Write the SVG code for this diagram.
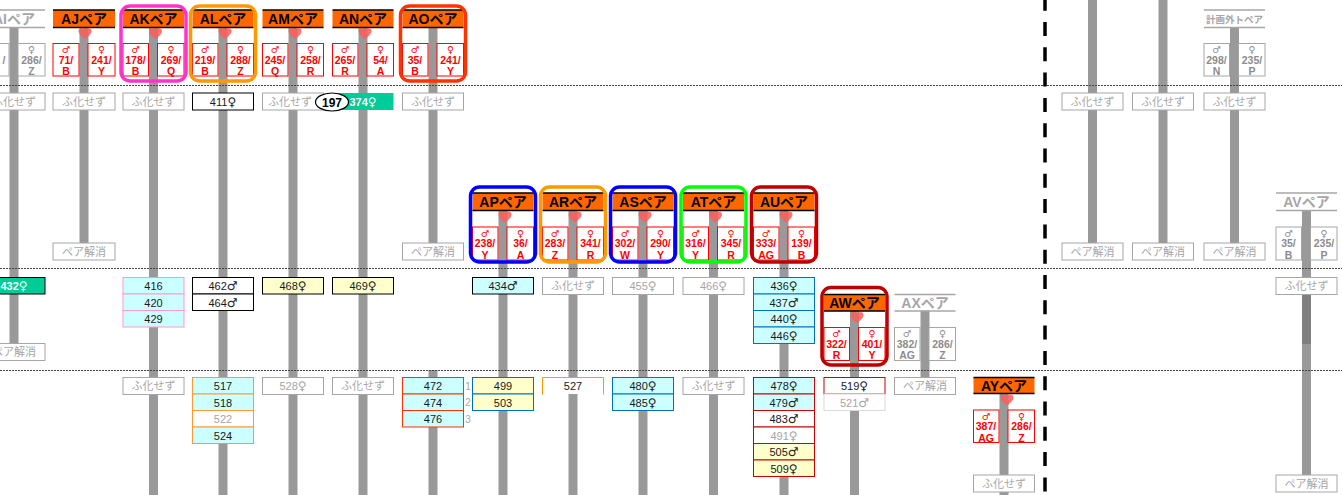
<svg xmlns="http://www.w3.org/2000/svg" xmlns:xlink="http://www.w3.org/1999/xlink" width="1342" height="495" viewBox="0 0 1342 495">
<style>
.bar{fill:#999}
.hdr{fill:#FF6600}
.hl{stroke:#000;stroke-width:1.4;fill:none}
.ghl{stroke:#A6A6A6;stroke-width:1.4;fill:none}
.ht{font-family:"Liberation Sans","Noto Sans CJK JP",sans-serif;font-weight:bold;font-size:14px;fill:#000;text-anchor:middle}
.ght{font-family:"Liberation Sans","Noto Sans CJK JP",sans-serif;font-weight:bold;font-size:14px;fill:#A6A6A6;text-anchor:middle}
.ghs{font-family:"Noto Sans CJK JP",sans-serif;font-weight:bold;font-size:9.5px;fill:#A6A6A6;text-anchor:middle}
.sx{fill:#fff;stroke:#FF0000;stroke-width:1}
.gsx{fill:#fff;stroke:#A6A6A6;stroke-width:1}
.st{font-family:"Liberation Sans","DejaVu Sans",sans-serif;font-weight:bold;font-size:10.5px;fill:#FF0000;text-anchor:middle}
.gst{font-family:"Liberation Sans","DejaVu Sans",sans-serif;font-weight:bold;font-size:10.5px;fill:#8C8C8C;text-anchor:middle}
.sy{font-family:"DejaVu Sans",sans-serif;font-weight:bold;font-size:9.5px}
.ls{font-family:"DejaVu Sans",sans-serif;font-size:12px}
.gb{fill:#fff;stroke:#A6A6A6;stroke-width:1}
.gt{font-family:"Liberation Sans","Noto Sans CJK JP",sans-serif;font-size:11px;fill:#A6A6A6;text-anchor:middle}
.lt{font-family:"Liberation Sans","DejaVu Sans",sans-serif;font-size:11px;fill:#1a1a1a;text-anchor:middle}
.lg{font-family:"Liberation Sans","DejaVu Sans",sans-serif;font-size:11px;fill:#A6A6A6;text-anchor:middle}
.num{font-family:"Liberation Sans",sans-serif;font-size:10px;fill:#A6A6A6;text-anchor:middle}
.wt{font-family:"Liberation Sans","DejaVu Sans",sans-serif;font-weight:bold;font-size:11px;fill:#fff;text-anchor:middle}
.grp{fill:none;stroke-width:3.5}
.sep{stroke:#444;stroke-width:1;stroke-dasharray:2 1;fill:none}
.cy{fill:#CCFFFF}
.ye{fill:#FFFFCC}
.wh{fill:#fff}
.heart{fill:#FF5B5B;opacity:.85}
</style>
<defs>
<path id="heart" class="heart" d="M0,5.5 C-2.5,3.5 -6.5,0.5 -6.5,-2.3 C-6.5,-4.5 -5,-5.5 -3.3,-5.5 C-1.8,-5.5 -0.6,-4.6 0,-3.4 C0.6,-4.6 1.8,-5.5 3.3,-5.5 C5,-5.5 6.5,-4.5 6.5,-2.3 C6.5,0.5 2.5,3.5 0,5.5Z"/>
</defs>
<rect x="0" y="0" width="1342" height="495" fill="#fff"/>

<g id="connectors" class="bar">
<rect x="9.5" y="27.5" width="9" height="324.5"/>
<rect x="79.5" y="27.5" width="9" height="224.5"/>
<rect x="149" y="27.5" width="9" height="467.5"/>
<rect x="218.5" y="27.5" width="9" height="467.5"/>
<rect x="288.5" y="27.5" width="9" height="467.5"/>
<rect x="358.5" y="27.5" width="9" height="467.5"/>
<rect x="428.5" y="27.5" width="9" height="224.5"/>
<rect x="428.5" y="370" width="9" height="125"/>
<rect x="498.5" y="210" width="9" height="285"/>
<rect x="568.5" y="210" width="9" height="285"/>
<rect x="638.5" y="210" width="9" height="285"/>
<rect x="709" y="210" width="9" height="285"/>
<rect x="779.5" y="210" width="9" height="285"/>
<rect x="850" y="310.5" width="9" height="184.5"/>
<rect x="920.5" y="310.5" width="9" height="74.5"/>
<rect x="999.5" y="393" width="9" height="102"/>
<rect x="1088" y="0" width="9" height="252"/>
<rect x="1158.5" y="0" width="9" height="252"/>
<rect x="1230" y="27.5" width="9" height="224.5"/>
<rect x="1302" y="210.5" width="9" height="273.5"/>
<rect x="1302" y="294" width="9" height="50" fill="#7F7F7F"/>
</g>

<g id="separators">
<path class="sep" d="M0 85.5H1342M0 268.5H1342M0 370.5H1342"/>
<path d="M1045 0V495" stroke="#000" stroke-width="3.5" stroke-dasharray="14 11.3" stroke-dashoffset="3.3" fill="none"/>
</g>

<!-- AI -->
<g id="pair-AI">
<path class="ghl" d="M-17 10H45M-17 27.5H45"/>
<text class="ght" x="14" y="23.5">AIペア</text>
<rect class="gsx" x="-17" y="43.5" width="26" height="32.5"/>
<rect class="gsx" x="18" y="43.5" width="27" height="32.5"/>
<text class="gst" x="4" y="63.5">/</text>
<text class="gst"><tspan class="sy" x="31.5" y="53">♀</tspan><tspan x="31.5" y="63.5">286/</tspan><tspan x="31.5" y="75">Z</tspan></text>
</g>
<g id="AI-s1"><rect class="gb" x="-17" y="93" width="62" height="17"/><text class="gt" x="14" y="105.5">ふ化せず</text></g>
<g id="AI-432"><rect x="-17" y="277.5" width="62" height="16.5" fill="#00CC99" stroke="#000" stroke-width="1"/><text class="wt" x="14" y="290">432<tspan class="ls" font-weight="bold">♀</tspan></text></g>
<g id="AI-end"><rect class="gb" x="-17" y="343.5" width="62" height="17"/><text class="gt" x="14" y="356">ペア解消</text></g>

<!-- AJ -->
<g id="pair-AJ">
<rect class="hdr" x="53" y="10" width="62" height="17.5"/>
<path class="hl" d="M53 10H115M53 27.5H115"/>
<text class="ht" x="84" y="23.5">AJペア</text>
<use href="#heart" x="85" y="33.5"/>
<rect class="sx" x="53" y="43.5" width="26" height="32.5"/>
<rect class="sx" x="88" y="43.5" width="27" height="32.5"/>
<text class="st"><tspan class="sy" x="66" y="53">♂</tspan><tspan x="66" y="63.5">71/</tspan><tspan x="66" y="75">B</tspan></text>
<text class="st"><tspan class="sy" x="101.5" y="53">♀</tspan><tspan x="101.5" y="63.5">241/</tspan><tspan x="101.5" y="75">Y</tspan></text>
</g>
<g id="AJ-s1"><rect class="gb" x="53" y="93" width="62" height="17"/><text class="gt" x="84" y="105.5">ふ化せず</text></g>
<g id="AJ-end"><rect class="gb" x="53" y="243" width="62" height="17"/><text class="gt" x="84" y="255.5">ペア解消</text></g>

<!-- AK -->
<g id="pair-AK">
<rect class="hdr" x="123" y="10" width="61" height="17.5"/>
<path class="hl" d="M123 10H184M123 27.5H184"/>
<text class="ht" x="153.5" y="23.5">AKペア</text>
<use href="#heart" x="155.5" y="33.5"/>
<rect class="sx" x="123" y="43.5" width="25.5" height="32.5"/>
<rect class="sx" x="157.5" y="43.5" width="26.5" height="32.5"/>
<text class="st"><tspan class="sy" x="135.5" y="53">♂</tspan><tspan x="135.5" y="63.5">178/</tspan><tspan x="135.5" y="75">B</tspan></text>
<text class="st"><tspan class="sy" x="171" y="53">♀</tspan><tspan x="171" y="63.5">269/</tspan><tspan x="171" y="75">Q</tspan></text>
<rect class="grp" x="121" y="6" width="65" height="75" rx="9" stroke="#FF33CC"/>
</g>
<g id="AK-s1"><rect class="gb" x="123" y="93" width="61" height="17"/><text class="gt" x="153.5" y="105.5">ふ化せず</text></g>
<g id="AK-l2" stroke="#FF99CC" stroke-width="1">
<rect class="cy" x="123" y="277.5" width="61" height="16.5"/><rect class="cy" x="123" y="294" width="61" height="16.5"/><rect class="cy" x="123" y="310.5" width="61" height="16.5"/>
<text class="lt" stroke="none" x="153.5" y="290">416</text><text class="lt" stroke="none" x="153.5" y="306.5">420</text><text class="lt" stroke="none" x="153.5" y="323">429</text>
</g>
<g id="AK-s3"><rect class="gb" x="123" y="377.5" width="61" height="17"/><text class="gt" x="153.5" y="390">ふ化せず</text></g>

<!-- AL -->
<g id="pair-AL">
<rect class="hdr" x="192.5" y="10" width="61" height="17.5"/>
<path class="hl" d="M192.5 10H253.5M192.5 27.5H253.5"/>
<text class="ht" x="223" y="23.5">ALペア</text>
<use href="#heart" x="225" y="33.5"/>
<rect class="sx" x="192.5" y="43.5" width="25.5" height="32.5"/>
<rect class="sx" x="227" y="43.5" width="26.5" height="32.5"/>
<text class="st"><tspan class="sy" x="205" y="53">♂</tspan><tspan x="205" y="63.5">219/</tspan><tspan x="205" y="75">B</tspan></text>
<text class="st"><tspan class="sy" x="240.5" y="53">♀</tspan><tspan x="240.5" y="63.5">288/</tspan><tspan x="240.5" y="75">Z</tspan></text>
<rect class="grp" x="190.5" y="6" width="65" height="75" rx="9" stroke="#FF9900"/>
</g>
<g id="AL-411"><rect class="wh" x="192.5" y="93" width="61" height="17" stroke="#000"/><text class="lt" x="223" y="105.5">411<tspan class="ls">♀</tspan></text></g>
<g id="AL-l2" stroke="#000" stroke-width="1">
<rect class="wh" x="192.5" y="277.5" width="61" height="16.5"/><rect class="wh" x="192.5" y="294" width="61" height="16.5"/>
<text class="lt" stroke="none" x="223" y="290">462<tspan class="ls">♂</tspan></text><text class="lt" stroke="none" x="223" y="306.5">464<tspan class="ls">♂</tspan></text>
</g>
<g id="AL-l3" stroke="#FF9933" stroke-width="1">
<rect class="cy" x="192.5" y="377.5" width="61" height="16.5"/><rect class="cy" x="192.5" y="394" width="61" height="16.5"/><rect class="wh" x="192.5" y="410.5" width="61" height="16.5"/><rect class="cy" x="192.5" y="427" width="61" height="16.5"/>
<text class="lt" stroke="none" x="223" y="390">517</text><text class="lt" stroke="none" x="223" y="406.5">518</text><text class="lg" stroke="none" x="223" y="423">522</text><text class="lt" stroke="none" x="223" y="439.5">524</text>
</g>

<!-- AM -->
<g id="pair-AM">
<rect class="hdr" x="262.5" y="10" width="61" height="17.5"/>
<path class="hl" d="M262.5 10H323.5M262.5 27.5H323.5"/>
<text class="ht" x="293" y="23.5">AMペア</text>
<use href="#heart" x="295" y="33.5"/>
<rect class="sx" x="262.5" y="43.5" width="25.5" height="32.5"/>
<rect class="sx" x="297" y="43.5" width="26.5" height="32.5"/>
<text class="st"><tspan class="sy" x="275" y="53">♂</tspan><tspan x="275" y="63.5">245/</tspan><tspan x="275" y="75">Q</tspan></text>
<text class="st"><tspan class="sy" x="310.5" y="53">♀</tspan><tspan x="310.5" y="63.5">258/</tspan><tspan x="310.5" y="75">R</tspan></text>
</g>
<g id="AM-s1"><rect class="gb" x="262.5" y="93" width="61" height="17"/><text class="gt" x="290" y="105.5">ふ化せず</text></g>
<g id="AM-468"><rect class="ye" x="262.5" y="277.5" width="61" height="16.5" stroke="#000"/><text class="lt" x="293" y="290">468<tspan class="ls">♀</tspan></text></g>
<g id="AM-528"><rect class="gb" x="262.5" y="377.5" width="61" height="17"/><text class="gt" x="293" y="390">528<tspan class="ls">♀</tspan></text></g>

<!-- AN -->
<g id="pair-AN">
<rect class="hdr" x="332.5" y="10" width="61" height="17.5"/>
<path class="hl" d="M332.5 10H393.5M332.5 27.5H393.5"/>
<text class="ht" x="363" y="23.5">ANペア</text>
<use href="#heart" x="365" y="33.5"/>
<rect class="sx" x="332.5" y="43.5" width="25.5" height="32.5"/>
<rect class="sx" x="367" y="43.5" width="26.5" height="32.5"/>
<text class="st"><tspan class="sy" x="345" y="53">♂</tspan><tspan x="345" y="63.5">265/</tspan><tspan x="345" y="75">R</tspan></text>
<text class="st"><tspan class="sy" x="380.5" y="53">♀</tspan><tspan x="380.5" y="63.5">54/</tspan><tspan x="380.5" y="75">A</tspan></text>
</g>
<g id="AN-374"><rect x="332.5" y="93" width="61" height="17" fill="#00CC99"/><text class="wt" x="363" y="105.5">374<tspan class="ls" font-weight="bold">♀</tspan></text></g>
<g id="AN-469"><rect class="ye" x="332.5" y="277.5" width="61" height="16.5" stroke="#000"/><text class="lt" x="363" y="290">469<tspan class="ls">♀</tspan></text></g>
<g id="AN-s3"><rect class="gb" x="332.5" y="377.5" width="61" height="17"/><text class="gt" x="363" y="390">ふ化せず</text></g>
<g id="badge-197"><ellipse cx="332" cy="102" rx="16.5" ry="9" fill="#fff" stroke="#000" stroke-width="1.2"/><text x="332" y="106.5" font-family="Liberation Sans, sans-serif" font-weight="bold" font-size="12" text-anchor="middle" fill="#000">197</text></g>

<!-- AO -->
<g id="pair-AO">
<rect class="hdr" x="402.5" y="10" width="61" height="17.5"/>
<path class="hl" d="M402.5 10H463.5M402.5 27.5H463.5"/>
<text class="ht" x="433" y="23.5">AOペア</text>
<rect class="sx" x="402.5" y="43.5" width="25.5" height="32.5"/>
<rect class="sx" x="437" y="43.5" width="26.5" height="32.5"/>
<text class="st"><tspan class="sy" x="415" y="53">♂</tspan><tspan x="415" y="63.5">35/</tspan><tspan x="415" y="75">B</tspan></text>
<text class="st"><tspan class="sy" x="450.5" y="53">♀</tspan><tspan x="450.5" y="63.5">241/</tspan><tspan x="450.5" y="75">Y</tspan></text>
<rect class="grp" x="400.5" y="6" width="65" height="75" rx="9" stroke="#FF3300"/>
</g>
<g id="AO-s1"><rect class="gb" x="402.5" y="93" width="61" height="17"/><text class="gt" x="433" y="105.5">ふ化せず</text></g>
<g id="AO-end"><rect class="gb" x="402.5" y="243" width="61" height="17"/><text class="gt" x="433" y="255.5">ペア解消</text></g>
<g id="AO-l3" stroke="#FF3300" stroke-width="1">
<rect class="cy" x="402.5" y="377.5" width="61" height="16.5"/><rect class="cy" x="402.5" y="394" width="61" height="16.5"/><rect class="cy" x="402.5" y="410.5" width="61" height="16.5"/>
<text class="lt" stroke="none" x="433" y="390">472</text><text class="lt" stroke="none" x="433" y="406.5">474</text><text class="lt" stroke="none" x="433" y="423">476</text>
<text class="num" stroke="none" x="468" y="389.5">1</text><text class="num" stroke="none" x="468" y="406">2</text><text class="num" stroke="none" x="468" y="422.5">3</text>
</g>

<!-- AP -->
<g id="pair-AP">
<rect class="hdr" x="472.5" y="193" width="61" height="17.5"/>
<path class="hl" d="M472.5 193H533.5M472.5 210.5H533.5"/>
<text class="ht" x="503" y="206.5">APペア</text>
<use href="#heart" x="505" y="217"/>
<rect class="sx" x="472.5" y="227" width="25.5" height="33"/>
<rect class="sx" x="507" y="227" width="26.5" height="33"/>
<text class="st"><tspan class="sy" x="485" y="236.5">♂</tspan><tspan x="485" y="247">238/</tspan><tspan x="485" y="258.5">Y</tspan></text>
<text class="st"><tspan class="sy" x="520.5" y="236.5">♀</tspan><tspan x="520.5" y="247">36/</tspan><tspan x="520.5" y="258.5">A</tspan></text>
<rect class="grp" x="470.5" y="187" width="65" height="75" rx="9" stroke="#0000FF"/>
</g>
<g id="AP-434"><rect class="cy" x="472.5" y="277.5" width="61" height="16.5" stroke="#000"/><text class="lt" x="503" y="290">434<tspan class="ls">♂</tspan></text></g>
<g id="AP-l3" stroke="#0070C0" stroke-width="1">
<rect class="ye" x="472.5" y="377.5" width="61" height="16.5"/><rect class="ye" x="472.5" y="394" width="61" height="16.5"/>
<text class="lt" stroke="none" x="503" y="390">499</text><text class="lt" stroke="none" x="503" y="406.5">503</text>
</g>

<!-- AR -->
<g id="pair-AR">
<rect class="hdr" x="542.5" y="193" width="61" height="17.5"/>
<path class="hl" d="M542.5 193H603.5M542.5 210.5H603.5"/>
<text class="ht" x="573" y="206.5">ARペア</text>
<use href="#heart" x="575" y="217"/>
<rect class="sx" x="542.5" y="227" width="25.5" height="33"/>
<rect class="sx" x="577" y="227" width="26.5" height="33"/>
<text class="st"><tspan class="sy" x="555" y="236.5">♂</tspan><tspan x="555" y="247">283/</tspan><tspan x="555" y="258.5">Z</tspan></text>
<text class="st"><tspan class="sy" x="590.5" y="236.5">♀</tspan><tspan x="590.5" y="247">341/</tspan><tspan x="590.5" y="258.5">R</tspan></text>
<rect class="grp" x="540.5" y="187" width="65" height="75" rx="9" stroke="#FF9900"/>
</g>
<g id="AR-s2"><rect class="gb" x="542.5" y="277.5" width="61" height="17"/><text class="gt" x="573" y="290">ふ化せず</text></g>
<g id="AR-527"><rect class="wh" x="542.5" y="377.5" width="61" height="16.5"/><path d="M542.5 394.5V377.5H603.5V394.5" fill="none" stroke="#FF9900"/><text class="lt" x="573" y="390">527</text></g>

<!-- AS -->
<g id="pair-AS">
<rect class="hdr" x="612.5" y="193" width="61" height="17.5"/>
<path class="hl" d="M612.5 193H673.5M612.5 210.5H673.5"/>
<text class="ht" x="643" y="206.5">ASペア</text>
<use href="#heart" x="645" y="217"/>
<rect class="sx" x="612.5" y="227" width="25.5" height="33"/>
<rect class="sx" x="647" y="227" width="26.5" height="33"/>
<text class="st"><tspan class="sy" x="625" y="236.5">♂</tspan><tspan x="625" y="247">302/</tspan><tspan x="625" y="258.5">W</tspan></text>
<text class="st"><tspan class="sy" x="660.5" y="236.5">♀</tspan><tspan x="660.5" y="247">290/</tspan><tspan x="660.5" y="258.5">Y</tspan></text>
<rect class="grp" x="610.5" y="187" width="65" height="75" rx="9" stroke="#0000FF"/>
</g>
<g id="AS-455"><rect class="gb" x="612.5" y="277.5" width="61" height="17"/><text class="gt" x="643" y="290">455<tspan class="ls">♀</tspan></text></g>
<g id="AS-l3" stroke="#0070C0" stroke-width="1">
<rect class="cy" x="612.5" y="377.5" width="61" height="16.5"/><rect class="cy" x="612.5" y="394" width="61" height="16.5"/>
<text class="lt" stroke="none" x="643" y="390">480<tspan class="ls">♀</tspan></text><text class="lt" stroke="none" x="643" y="406.5">485<tspan class="ls">♀</tspan></text>
</g>

<!-- AT -->
<g id="pair-AT">
<rect class="hdr" x="683" y="193" width="61" height="17.5"/>
<path class="hl" d="M683 193H744M683 210.5H744"/>
<text class="ht" x="713.5" y="206.5">ATペア</text>
<use href="#heart" x="715.5" y="217"/>
<rect class="sx" x="683" y="227" width="25.5" height="33"/>
<rect class="sx" x="717.5" y="227" width="26.5" height="33"/>
<text class="st"><tspan class="sy" x="695.5" y="236.5">♂</tspan><tspan x="695.5" y="247">316/</tspan><tspan x="695.5" y="258.5">Y</tspan></text>
<text class="st"><tspan class="sy" x="731" y="236.5">♀</tspan><tspan x="731" y="247">345/</tspan><tspan x="731" y="258.5">R</tspan></text>
<rect class="grp" x="681" y="187" width="65" height="75" rx="9" stroke="#00FF00"/>
</g>
<g id="AT-466"><rect class="gb" x="683" y="277.5" width="61" height="17"/><text class="gt" x="713.5" y="290">466<tspan class="ls">♀</tspan></text></g>
<g id="AT-s3"><rect class="gb" x="683" y="377.5" width="61" height="17"/><text class="gt" x="713.5" y="390">ふ化せず</text></g>

<!-- AU -->
<g id="pair-AU">
<rect class="hdr" x="753.5" y="193" width="61" height="17.5"/>
<path class="hl" d="M753.5 193H814.5M753.5 210.5H814.5"/>
<text class="ht" x="784" y="206.5">AUペア</text>
<use href="#heart" x="786" y="217"/>
<rect class="sx" x="753.5" y="227" width="25.5" height="33"/>
<rect class="sx" x="788" y="227" width="26.5" height="33"/>
<text class="st"><tspan class="sy" x="766" y="236.5">♂</tspan><tspan x="766" y="247">333/</tspan><tspan x="766" y="258.5">AG</tspan></text>
<text class="st"><tspan class="sy" x="801.5" y="236.5">♀</tspan><tspan x="801.5" y="247">139/</tspan><tspan x="801.5" y="258.5">B</tspan></text>
<rect class="grp" x="751.5" y="187" width="65" height="75" rx="9" stroke="#C00000"/>
</g>
<g id="AU-l2" stroke="#0070C0" stroke-width="1">
<rect class="cy" x="753.5" y="277.5" width="61" height="16.5"/><rect class="cy" x="753.5" y="294" width="61" height="16.5"/><rect class="cy" x="753.5" y="310.5" width="61" height="16.5"/><rect class="cy" x="753.5" y="327" width="61" height="16.5"/>
<text class="lt" stroke="none" x="784" y="290">436<tspan class="ls">♀</tspan></text><text class="lt" stroke="none" x="784" y="306.5">437<tspan class="ls">♂</tspan></text><text class="lt" stroke="none" x="784" y="323">440<tspan class="ls">♀</tspan></text><text class="lt" stroke="none" x="784" y="339.5">446<tspan class="ls">♀</tspan></text>
</g>
<g id="AU-l3" stroke="#CC0000" stroke-width="1">
<rect class="cy" x="753.5" y="377.5" width="61" height="16.5"/><rect class="cy" x="753.5" y="394" width="61" height="16.5"/><rect class="wh" x="753.5" y="410.5" width="61" height="16.5"/><rect class="wh" x="753.5" y="427" width="61" height="16.5"/><rect class="ye" x="753.5" y="443.5" width="61" height="16.5"/><rect class="ye" x="753.5" y="460" width="61" height="16.5"/>
<text class="lt" stroke="none" x="784" y="390">478<tspan class="ls">♀</tspan></text><text class="lt" stroke="none" x="784" y="406.5">479<tspan class="ls">♂</tspan></text><text class="lt" stroke="none" x="784" y="423">483<tspan class="ls">♂</tspan></text><text class="lg" stroke="none" x="784" y="439.5">491<tspan class="ls">♀</tspan></text><text class="lt" stroke="none" x="784" y="456">505<tspan class="ls">♂</tspan></text><text class="lt" stroke="none" x="784" y="472.5">509<tspan class="ls">♀</tspan></text>
</g>

<!-- AW -->
<g id="pair-AW">
<rect class="hdr" x="824" y="294.5" width="61" height="16.5"/>
<path class="hl" d="M824 294.5H885M824 311H885"/>
<text class="ht" x="854.5" y="307.5">AWペア</text>
<use href="#heart" x="857" y="317.5"/>
<rect class="sx" x="824" y="327.5" width="25.5" height="33"/>
<rect class="sx" x="858.5" y="327.5" width="26.5" height="33"/>
<text class="st"><tspan class="sy" x="836.5" y="337">♂</tspan><tspan x="836.5" y="347.5">322/</tspan><tspan x="836.5" y="359">R</tspan></text>
<text class="st"><tspan class="sy" x="872" y="337">♀</tspan><tspan x="872" y="347.5">401/</tspan><tspan x="872" y="359">Y</tspan></text>
<rect class="grp" x="822" y="287.5" width="65" height="77.5" rx="9" stroke="#C00000"/>
</g>
<g id="AW-519"><rect class="wh" x="824" y="377.5" width="61" height="16.5" stroke="#CC0000"/><text class="lt" x="854.5" y="390">519<tspan class="ls">♀</tspan></text></g>
<g id="AW-521"><rect class="wh" x="824" y="394" width="61" height="16.5" stroke="#D9D9D9"/><text class="lg" x="854.5" y="406.5">521<tspan class="ls">♂</tspan></text></g>

<!-- AX -->
<g id="pair-AX">
<path class="ghl" d="M894.5 294.5H955.5M894.5 311H955.5"/>
<text class="ght" x="925" y="307.5">AXペア</text>
<rect class="gsx" x="894.5" y="327.5" width="25.5" height="33"/>
<rect class="gsx" x="929" y="327.5" width="26.5" height="33"/>
<text class="gst"><tspan class="sy" x="907" y="337">♂</tspan><tspan x="907" y="347.5">382/</tspan><tspan x="907" y="359">AG</tspan></text>
<text class="gst"><tspan class="sy" x="942.5" y="337">♀</tspan><tspan x="942.5" y="347.5">286/</tspan><tspan x="942.5" y="359">Z</tspan></text>
</g>
<g id="AX-end"><rect class="gb" x="894.5" y="377.5" width="61" height="17"/><text class="gt" x="925" y="390">ペア解消</text></g>

<!-- AY -->
<g id="pair-AY">
<rect class="hdr" x="973.5" y="377.5" width="61" height="16"/>
<path class="hl" d="M973.5 377.5H1034.5M973.5 393.5H1034.5"/>
<text class="ht" x="1004" y="390.5">AYペア</text>
<use href="#heart" x="1007" y="400"/>
<rect class="sx" x="973.5" y="410" width="25.5" height="32.5"/>
<rect class="sx" x="1008" y="410" width="26.5" height="32.5"/>
<text class="st"><tspan class="sy" x="986" y="419.5">♂</tspan><tspan x="986" y="430">387/</tspan><tspan x="986" y="441.5">AG</tspan></text>
<text class="st"><tspan class="sy" x="1021.5" y="419.5">♀</tspan><tspan x="1021.5" y="430">286/</tspan><tspan x="1021.5" y="441.5">Z</tspan></text>
</g>
<g id="AY-s"><rect class="gb" x="973.5" y="475" width="61" height="17"/><text class="gt" x="1004" y="487.5">ふ化せず</text></g>

<!-- right columns -->
<g id="R1-s1"><rect class="gb" x="1062" y="93" width="61" height="17"/><text class="gt" x="1092.5" y="105.5">ふ化せず</text></g>
<g id="R1-end"><rect class="gb" x="1062" y="243" width="61" height="17"/><text class="gt" x="1092.5" y="255.5">ペア解消</text></g>
<g id="R2-s1"><rect class="gb" x="1132.5" y="93" width="61" height="17"/><text class="gt" x="1163" y="105.5">ふ化せず</text></g>
<g id="R2-end"><rect class="gb" x="1132.5" y="243" width="61" height="17"/><text class="gt" x="1163" y="255.5">ペア解消</text></g>

<g id="pair-KK">
<path class="ghl" d="M1204 10H1265M1204 27.5H1265"/>
<text class="ghs" x="1234.5" y="22.5">計画外トペア</text>
<rect class="gsx" x="1204" y="43.5" width="25.5" height="32.5"/>
<rect class="gsx" x="1238.5" y="43.5" width="26.5" height="32.5"/>
<text class="gst"><tspan class="sy" x="1216.5" y="53">♂</tspan><tspan x="1216.5" y="63.5">298/</tspan><tspan x="1216.5" y="75">N</tspan></text>
<text class="gst"><tspan class="sy" x="1252" y="53">♀</tspan><tspan x="1252" y="63.5">235/</tspan><tspan x="1252" y="75">P</tspan></text>
</g>
<g id="KK-s1"><rect class="gb" x="1204" y="93" width="61" height="17"/><text class="gt" x="1234.5" y="105.5">ふ化せず</text></g>
<g id="KK-end"><rect class="gb" x="1204" y="243" width="61" height="17"/><text class="gt" x="1234.5" y="255.5">ペア解消</text></g>

<g id="pair-AV">
<path class="ghl" d="M1276 193H1337M1276 210.5H1337"/>
<text class="ght" x="1306.5" y="206.5">AVペア</text>
<rect class="gsx" x="1276" y="227" width="25.5" height="33"/>
<rect class="gsx" x="1310.5" y="227" width="26.5" height="33"/>
<text class="gst"><tspan class="sy" x="1288.5" y="236.5">♂</tspan><tspan x="1288.5" y="247">35/</tspan><tspan x="1288.5" y="258.5">B</tspan></text>
<text class="gst"><tspan class="sy" x="1324" y="236.5">♀</tspan><tspan x="1324" y="247">235/</tspan><tspan x="1324" y="258.5">P</tspan></text>
</g>
<g id="AV-s2"><rect class="gb" x="1276" y="277.5" width="61" height="17"/><text class="gt" x="1306.5" y="290">ふ化せず</text></g>
<g id="AV-end"><rect class="gb" x="1276" y="475" width="61" height="17"/><text class="gt" x="1306.5" y="487.5">ペア解消</text></g>
</svg>
